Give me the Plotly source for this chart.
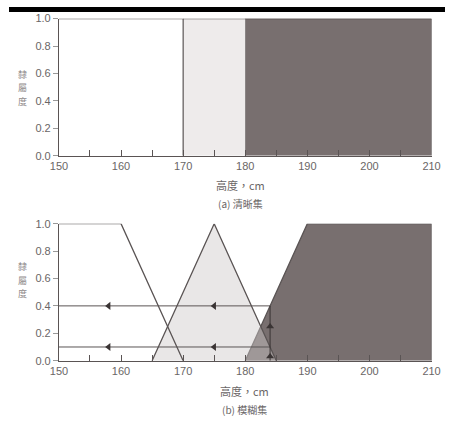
import plotly.graph_objects as go

# ---- data ----
x_ticks = [150, 160, 170, 180, 190, 200, 210]
y_ticks = [0.0, 0.2, 0.4, 0.6, 0.8, 1.0]
y_tick_text = ["0.0", "0.2", "0.4", "0.6", "0.8", "1.0"]

crisp_short = [150, 170]
crisp_medium = [170, 180]
crisp_tall = [180, 210]

fuzzy_short_x = [150, 160, 170]
fuzzy_short_y = [1, 1, 0]
fuzzy_medium_x = [165, 175, 185]
fuzzy_medium_y = [0, 1, 0]
fuzzy_tall_x = [180, 190, 210, 210]
fuzzy_tall_y = [0, 1, 1, 0]

query_height = 184
query_memberships = [0.4, 0.1]
arrow_left_x = [158, 175]
arrow_up_y = [0.25, 0.03]

y_label_chars = ["隸", "屬", "度"]
x_title = "高度，cm"
caption_a = "(a) 清晰集"
caption_b = "(b) 模糊集"

LINE = "#5a5454"
DARK = "#786f6f"
LIGHT = "#eeebeb"
FONT = "Liberation Sans, Arial, sans-serif"
TXT = "#6a6666"

fig = go.Figure()

# ---- top: crisp sets ----
fig.add_trace(go.Scatter(x=[crisp_tall[0], crisp_tall[0], crisp_tall[1], crisp_tall[1]], y=[0, 1, 1, 0],
                         fill="toself", fillcolor=DARK, line=dict(color=LINE, width=1),
                         mode="lines", xaxis="x", yaxis="y", showlegend=False, hoverinfo="skip"))
fig.add_trace(go.Scatter(x=[crisp_medium[0], crisp_medium[0], crisp_medium[1], crisp_medium[1]], y=[0, 1, 1, 0],
                         fill="toself", fillcolor=LIGHT, line=dict(color=LINE, width=0),
                         mode="lines", xaxis="x", yaxis="y", showlegend=False, hoverinfo="skip"))
fig.add_trace(go.Scatter(x=[crisp_short[0], crisp_short[1], crisp_short[1]], y=[1, 1, 0],
                         line=dict(color=LINE, width=1.2), mode="lines",
                         xaxis="x", yaxis="y", showlegend=False, hoverinfo="skip"))
fig.add_trace(go.Scatter(x=[crisp_medium[0], crisp_tall[1]], y=[1, 1],
                         line=dict(color=LINE, width=1.2), mode="lines",
                         xaxis="x", yaxis="y", showlegend=False, hoverinfo="skip"))

# ---- bottom: fuzzy sets ----
fig.add_trace(go.Scatter(x=fuzzy_tall_x, y=fuzzy_tall_y, fill="toself", fillcolor=DARK,
                         line=dict(color=LINE, width=1.3), mode="lines",
                         xaxis="x2", yaxis="y2", showlegend=False, hoverinfo="skip"))
fig.add_trace(go.Scatter(x=fuzzy_medium_x, y=fuzzy_medium_y, fill="toself",
                         fillcolor="rgba(206,201,201,0.45)",
                         line=dict(color=LINE, width=1.3), mode="lines",
                         xaxis="x2", yaxis="y2", showlegend=False, hoverinfo="skip"))
fig.add_trace(go.Scatter(x=fuzzy_short_x, y=fuzzy_short_y,
                         line=dict(color=LINE, width=1.3), mode="lines",
                         xaxis="x2", yaxis="y2", showlegend=False, hoverinfo="skip"))

# query lines
for m in query_memberships:
    fig.add_trace(go.Scatter(x=[150, query_height], y=[m, m],
                             line=dict(color=LINE, width=1), mode="lines",
                             xaxis="x2", yaxis="y2", showlegend=False, hoverinfo="skip"))
    fig.add_trace(go.Scatter(x=arrow_left_x, y=[m] * len(arrow_left_x), mode="markers",
                             marker=dict(symbol="triangle-left", size=7, color="#3a3434"),
                             xaxis="x2", yaxis="y2", showlegend=False, hoverinfo="skip"))
fig.add_trace(go.Scatter(x=[query_height, query_height], y=[0, max(query_memberships)],
                         line=dict(color="#3a3434", width=1), mode="lines",
                         xaxis="x2", yaxis="y2", showlegend=False, hoverinfo="skip"))
fig.add_trace(go.Scatter(x=[query_height] * len(arrow_up_y), y=arrow_up_y, mode="markers",
                         marker=dict(symbol="triangle-up", size=7, color="#3a3434"),
                         xaxis="x2", yaxis="y2", showlegend=False, hoverinfo="skip"))

minor_vals = list(range(150, 211, 5))
minor_text = [str(v) if v % 10 == 0 else "" for v in minor_vals]

xdom = [52 / 454, 440 / 454]

def xaxis(anchor):
    return dict(domain=xdom, range=[150, 210], anchor=anchor, showgrid=False, zeroline=False,
                showline=True, linecolor=LINE, linewidth=1,
                ticks="inside", ticklen=6, tickcolor=LINE, tickwidth=1,
                tickvals=minor_vals, ticktext=minor_text,
                tickfont=dict(family=FONT, size=11, color=TXT), layer="above traces")

def yaxis(dom, anchor):
    return dict(domain=dom, range=[0, 1], anchor=anchor, showgrid=False, zeroline=False,
                showline=True, linecolor=LINE, linewidth=1,
                ticks="outside", ticklen=5, tickcolor="#999", tickwidth=1,
                tickvals=y_ticks, ticktext=y_tick_text,
                tickfont=dict(family=FONT, size=11, color=TXT))

fig.update_layout(
    width=454, height=425, margin=dict(l=0, r=0, t=0, b=0),
    paper_bgcolor="white", plot_bgcolor="white",
    xaxis=xaxis("y"),
    yaxis=yaxis([(425 - 154) / 425, (425 - 13) / 425], "x"),
    xaxis2=xaxis("y2"),
    yaxis2=yaxis([(425 - 365) / 425, (425 - 224) / 425], "x2"),
    shapes=[dict(type="line", xref="paper", yref="paper", x0=0, x1=1,
                 y0=(425 - 3.5) / 425, y1=(425 - 3.5) / 425,
                 line=dict(color="black", width=5))],
)

def ann(text, x, y, size=11, color=TXT):
    return dict(text=text, x=x / 454, y=1 - y / 425, xref="paper", yref="paper",
                showarrow=False, font=dict(family="Noto Sans CJK TC, " + FONT, size=size, color=color),
                xanchor="center", yanchor="middle")

anns = [
    ann(x_title, 241, 184, 11),
    ann(caption_a, 241, 203, 10),
    ann(x_title, 245, 396, 11),
    ann(caption_b, 245, 415, 10),
]
for yc0 in (70, 268):
    for i, ch in enumerate(y_label_chars):
        anns.append(ann(ch, 14, yc0 + 14 * i, 9, "#8f8a8a"))
fig.update_layout(annotations=anns)

fig.write_html("out.html", config={"displayModeBar": False},
               post_script="document.body.style.margin='0';document.body.style.overflow='hidden';")
